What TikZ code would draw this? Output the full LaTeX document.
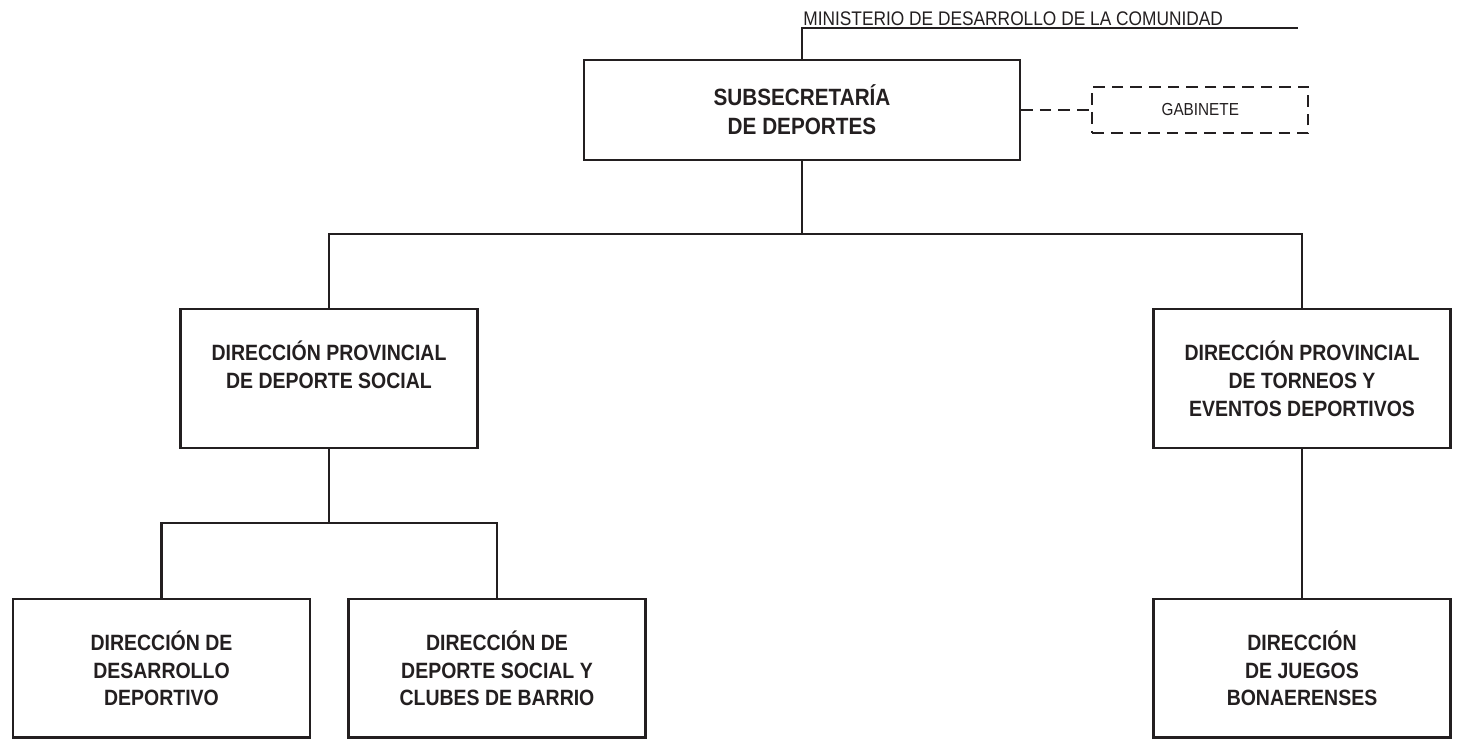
\documentclass[tikz,border=0pt]{standalone}
\usepackage{fontspec}
\setmainfont{Liberation Sans}[FakeStretch=0.88]
\usetikzlibrary{positioning, calc}
\definecolor{ink}{RGB}{35,31,32}

\begin{document}
\begin{tikzpicture}[
    node distance=2.94cm,
    unit/.style={rectangle, draw=ink, line width=1.3pt, inner sep=0pt, minimum width=5.94cm, minimum height=2.77cm, align=center, text=ink, font=\fontsize{12.6}{15.9}\selectfont\bfseries},
    staff/.style={rectangle, draw=ink, line width=1.3pt, dash pattern=on 6.6pt off 4pt, inner sep=0pt, minimum width=4.32cm, minimum height=0.92cm, text=ink, font=\fontsize{9.9}{12}\selectfont},
    link/.style={draw=ink, line width=1.3pt},
]

\useasboundingbox (0,0) rectangle (29.22,-14.8);

\node[unit, minimum width=8.72cm, minimum height=2cm, font=\fontsize{13.4}{16.6}\selectfont\bfseries] (subsec) at (16.04,-2.2) {
    SUBSECRETARÍA\\
    DE DEPORTES
};

\node[staff, right=1.4cm of subsec] (gabinete) {GABINETE};

\node[unit, below=of subsec, xshift=-9.46cm] (provsocial) {
    DIRECCIÓN PROVINCIAL\\
    DE DEPORTE SOCIAL\\
    \mbox{}
};

\node[unit, below=of subsec, xshift=10cm] (provtorneos) {
    DIRECCIÓN PROVINCIAL\\
    DE TORNEOS Y\\
    EVENTOS DEPORTIVOS
};

\node[unit, below=2.98cm of provsocial, xshift=-3.35cm] (desarrollo) {
    DIRECCIÓN DE\\
    DESARROLLO\\
    DEPORTIVO
};

\node[unit, below=2.98cm of provsocial, xshift=3.36cm] (clubes) {
    DIRECCIÓN DE\\
    DEPORTE SOCIAL Y\\
    CLUBES DE BARRIO
};

\node[unit, below=2.98cm of provtorneos] (juegos) {
    DIRECCIÓN\\
    DE JUEGOS\\
    BONAERENSES
};

\node[anchor=base west, inner sep=0pt, text=ink, font=\fontsize{11.2}{13}\selectfont] (ministerio) at ($(subsec.north)+(0.02,0.66)$) {MINISTERIO DE DESARROLLO DE LA COMUNIDAD};
\coordinate (minend) at ($(subsec.north)+(9.92,0.62)$);
\draw[link] (subsec.north) |- (minend);

\draw[link, dash pattern=on 6.6pt off 4pt] (subsec.east) -- (gabinete.west);

\coordinate (fork1) at ($(subsec.south)+(0,-1.46)$);
\draw[link] (subsec.south) -- (fork1);
\draw[link] (provsocial.north) |- (fork1) -| (provtorneos.north);

\coordinate (fork2) at ($(provsocial.south)+(0,-1.48)$);
\draw[link] (provsocial.south) -- (fork2);
\draw[link] (desarrollo.north) |- (fork2) -| (clubes.north);

\draw[link] (provtorneos.south) -- (juegos.north);

\end{tikzpicture}
\end{document}
